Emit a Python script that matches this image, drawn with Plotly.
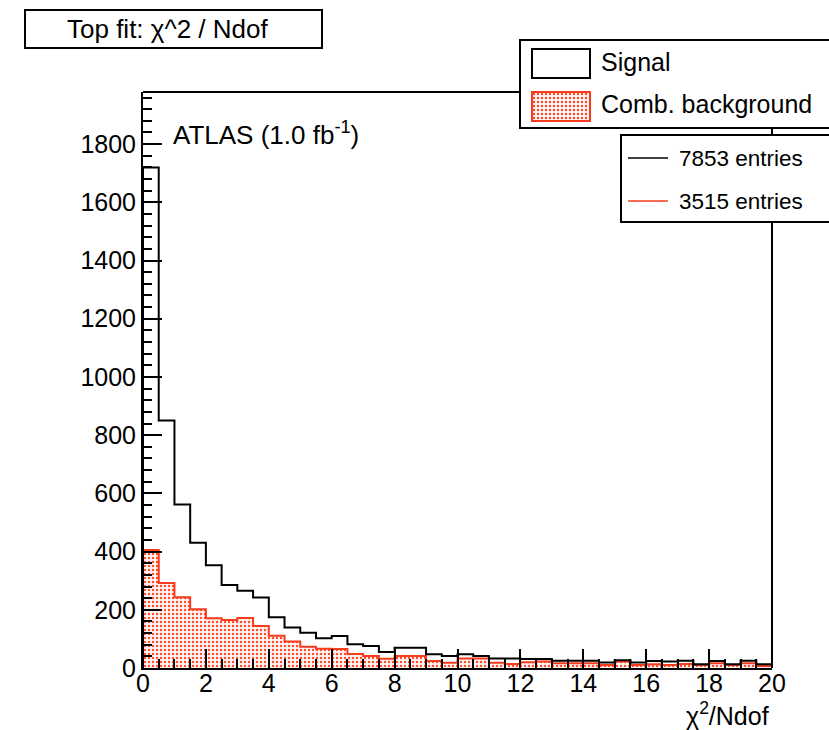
import numpy as np
import plotly.graph_objects as go

# ---------------- data ----------------
bin_lo, bin_hi, n_bins = 0.0, 20.0, 40
signal = [1720, 850, 562, 430, 353, 285, 265, 242, 174, 139,
          121, 102, 110, 82, 76, 55, 70, 70, 47, 41,
          47, 41, 33, 33, 31, 31, 25, 25, 25, 19,
          27, 19, 24, 22, 25, 13, 24, 13, 25, 13]
background = [405, 292, 243, 202, 171, 165, 172, 144, 111, 91,
              73, 66, 65, 48, 41, 32, 41, 41, 24, 18,
              33, 33, 18, 14, 20, 22, 16, 16, 16, 10,
              22, 10, 13, 10, 14, 10, 16, 10, 16, 7]
x_ticks = [0, 2, 4, 6, 8, 10, 12, 14, 16, 18, 20]
y_ticks = [0, 200, 400, 600, 800, 1000, 1200, 1400, 1600, 1800]
legend_hist = ["Signal", "Comb. background"]
legend_lines = ["7853 entries", "3515 entries"]

# ---------------- style ----------------
W, H = 829, 730
L, R, T, B = 143, 772, 92, 668
RED = "#f73b1d"
FONT = "Liberation Sans"
YMAX = 1979


def px(x):
    return (x - L) / (R - L)


def py(y):
    return (B - y) / (B - T)


edges = np.linspace(bin_lo, bin_hi, n_bins + 1)
centers = 0.5 * (edges[:-1] + edges[1:])
width = edges[1] - edges[0]


def step(vals):
    xs = [edges[0]] + list(edges) + [edges[-1]]
    ys = [0] + list(vals) + [vals[-1], 0]
    return xs, ys


fig = go.Figure()

pattern = dict(shape=".", fgcolor="#ff4a2a", bgcolor="#fff6f4", size=4, solidity=0.27,
               fillmode="replace")

fig.add_trace(go.Bar(x=centers, y=background, width=width,
                     marker=dict(color="white", pattern=pattern, line=dict(width=0)),
                     showlegend=False, hoverinfo="skip"))
bx, by = step(background)
fig.add_trace(go.Scatter(x=bx, y=by, mode="lines", line=dict(color=RED, width=2, shape="hv"),
                         showlegend=False, hoverinfo="skip"))
sx, sy = step(signal)
fig.add_trace(go.Scatter(x=sx, y=sy, mode="lines", line=dict(color="black", width=2, shape="hv"),
                         showlegend=False, hoverinfo="skip"))

# legend swatch with pattern (hidden mini axes)
fig.add_trace(go.Bar(x=[0.5], y=[1], width=[1], xaxis="x2", yaxis="y2",
                     marker=dict(color="white", pattern=pattern, line=dict(width=0)),
                     showlegend=False, hoverinfo="skip"))

fig.update_layout(
    width=W, height=H, autosize=False,
    margin=dict(l=L, r=W - R, t=T, b=H - B, pad=0),
    paper_bgcolor="white", plot_bgcolor="white",
    bargap=0, barmode="overlay",
    font=dict(family=FONT, size=25, color="black"),
    xaxis=dict(range=[bin_lo, bin_hi], tickmode="array", tickvals=x_ticks,
               ticktext=[str(v) for v in x_ticks],
               ticks="inside", ticklen=19, tickwidth=1.5, tickcolor="black",
               showline=True, linecolor="black", linewidth=2, mirror=False,
               showgrid=False, zeroline=False, ticklabelstandoff=-8,
               minor=dict(dtick=0.5, ticks="inside", ticklen=9, tickwidth=1.5,
                          tickcolor="black", showgrid=False),
               tickfont=dict(size=25)),
    yaxis=dict(range=[0, YMAX], tickmode="array", tickvals=y_ticks,
               ticktext=[str(v) for v in y_ticks],
               ticks="inside", ticklen=19, tickwidth=1.5, tickcolor="black",
               showline=True, linecolor="black", linewidth=2, mirror=False,
               showgrid=False, zeroline=False,
               minor=dict(dtick=40, ticks="inside", ticklen=9, tickwidth=1.5,
                          tickcolor="black", showgrid=False),
               tickfont=dict(size=25)),
    xaxis2=dict(domain=[px(532), px(590)], range=[0, 1], visible=False,
                anchor="y2", fixedrange=True),
    yaxis2=dict(domain=[py(121), py(92)], range=[0, 1], visible=False,
                anchor="x2", fixedrange=True),
)

shapes = []
line_k = dict(color="black", width=2)
# frame parts not hidden by legend boxes
shapes.append(dict(type="line", xref="paper", yref="paper", x0=0, x1=px(520), y0=1, y1=1, line=line_k))
shapes.append(dict(type="line", xref="paper", yref="paper", x0=1, x1=1, y0=py(128), y1=py(135), line=line_k))
shapes.append(dict(type="line", xref="paper", yref="paper", x0=1, x1=1, y0=py(222), y1=0, line=line_k))
# title box
shapes.append(dict(type="rect", xref="paper", yref="paper", x0=px(25), x1=px(322),
                   y0=py(48), y1=py(10), line=line_k, fillcolor="rgba(0,0,0,0)"))
# legend box 1
shapes.append(dict(type="rect", xref="paper", yref="paper", x0=px(520), x1=px(860),
                   y0=py(128), y1=py(40), line=line_k, fillcolor="rgba(0,0,0,0)"))
shapes.append(dict(type="rect", xref="paper", yref="paper", x0=px(532), x1=px(590),
                   y0=py(78), y1=py(49), line=line_k, fillcolor="white"))
shapes.append(dict(type="rect", xref="paper", yref="paper", x0=px(532), x1=px(590),
                   y0=py(121), y1=py(92), line=dict(color=RED, width=2), fillcolor="rgba(0,0,0,0)"))
# legend box 2
shapes.append(dict(type="rect", xref="paper", yref="paper", x0=px(621), x1=px(860),
                   y0=py(222), y1=py(135), line=line_k, fillcolor="white"))
shapes.append(dict(type="line", xref="paper", yref="paper", x0=px(628), x1=px(668),
                   y0=py(158), y1=py(158), line=dict(color="black", width=1.5)))
shapes.append(dict(type="line", xref="paper", yref="paper", x0=px(628), x1=px(668),
                   y0=py(201), y1=py(201), line=dict(color=RED, width=1.5)))
fig.update_layout(shapes=shapes)

ann = []


def text(x, y, s, size=24, xanchor="left"):
    ann.append(dict(xref="paper", yref="paper", x=px(x), y=py(y), text=s, showarrow=False,
                    xanchor=xanchor, yanchor="middle", font=dict(family=FONT, size=size, color="black")))


text(167, 29, "Top fit: \u03c7^2 / Ndof", 26, "center")
text(599, 62, legend_hist[0], 25)
text(599, 104, legend_hist[1], 25)
text(677, 158, legend_lines[0], 22.5)
text(677, 201, legend_lines[1], 22.5)
text(171, 133, "ATLAS (1.0 fb<sup>-1</sup>)", 26)
text(771, 714, "\u03c7<sup>2</sup>/Ndof", 25, "right")
fig.update_layout(annotations=ann)

fig.write_html("out.html")
